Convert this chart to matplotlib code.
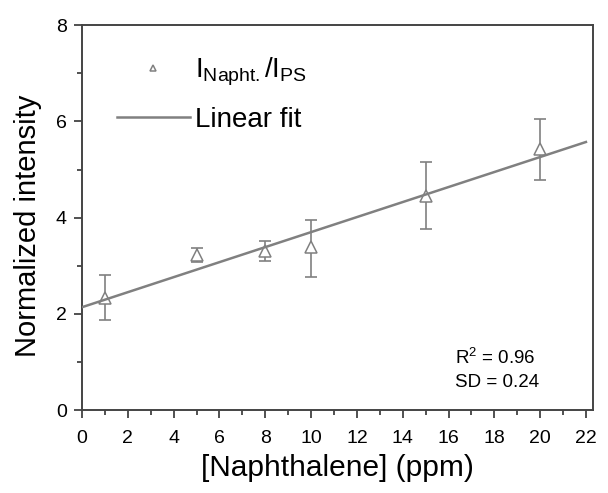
import numpy as np
import matplotlib
matplotlib.use("Agg")
import matplotlib.pyplot as plt
from matplotlib.ticker import MultipleLocator

plt.rcParams['font.family'] = ['Liberation Sans', 'DejaVu Sans']
plt.rcParams['mathtext.fontset'] = 'custom'
plt.rcParams['mathtext.rm'] = 'Liberation Sans'
plt.rcParams['mathtext.it'] = 'Liberation Sans'

# data
conc = [1, 5, 8, 10, 15, 20]
intensity = [2.33, 3.22, 3.30, 3.38, 4.44, 5.42]
err_low = [1.87, 3.08, 3.10, 2.77, 3.76, 4.78]
err_high = [2.80, 3.36, 3.52, 3.96, 5.15, 6.06]

# linear fit parameters
fit_intercept = 2.14
fit_slope = 0.156
fit_range = [0, 22]

gray = '#808080'

fig = plt.figure(figsize=(6.08, 4.93), dpi=100)
ax = fig.add_axes([0.135, 0.168, 0.84, 0.781])

yerr = [np.array(intensity) - np.array(err_low), np.array(err_high) - np.array(intensity)]
ax.errorbar(conc, intensity, yerr=yerr, fmt='none', ecolor=gray, elinewidth=1.2,
            capsize=4, capthick=1.2, zorder=2)
pts, = ax.plot(conc, intensity, linestyle='none', marker='^', markersize=8,
               markerfacecolor='white', markeredgecolor=gray, markeredgewidth=1.1,
               zorder=3, label=r'I$_{\mathrm{Napht.}}$/I$_{\mathrm{PS}}$')

xf = np.linspace(fit_range[0], fit_range[1], 50)
fit_line, = ax.plot(xf, fit_intercept + fit_slope * xf, color=gray, linewidth=1.8,
                    zorder=4, label='Linear fit')

ax.set_xlim(0, 22.3)
ax.set_ylim(0, 8)
ax.xaxis.set_major_locator(MultipleLocator(2))
ax.xaxis.set_minor_locator(MultipleLocator(1))
ax.yaxis.set_major_locator(MultipleLocator(2))
ax.yaxis.set_minor_locator(MultipleLocator(1))
ax.tick_params(which='both', direction='out', top=False, right=False,
               color='#333333', width=1.2, labelsize=14)
ax.tick_params(axis='x', which='major', length=6, pad=8)
ax.tick_params(axis='y', which='major', length=6, pad=5)
ax.tick_params(which='minor', length=3.5)
for s in ax.spines.values():
    s.set_linewidth(1.4)
    s.set_color('#444444')

ax.set_xlabel('[Naphthalene] (ppm)', fontsize=21.5, labelpad=5)
ax.set_ylabel('Normalized intensity', fontsize=21, labelpad=10)
ax.yaxis.label.set_y(0.48)

leg = ax.legend(handles=[pts, fit_line], loc='upper left', bbox_to_anchor=(0.02, 0.985),
                frameon=False, fontsize=20, handlelength=2.6, handletextpad=0.2,
                labelspacing=0.68, markerscale=0.6)

ax.text(0.73, 0.106, 'R$^2$ = 0.96\nSD = 0.24', transform=ax.transAxes,
        fontsize=13.5, linespacing=1.5, va='center', ha='left')

fig.savefig('out.png', dpi=100)
